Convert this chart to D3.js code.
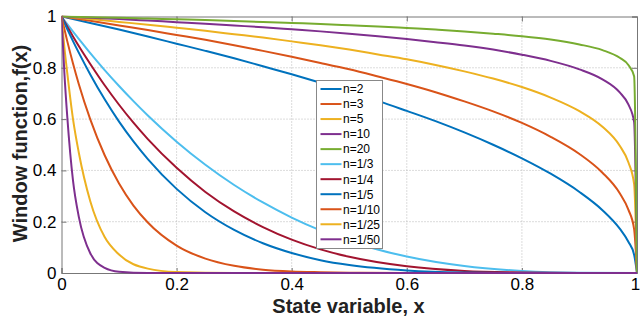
<!DOCTYPE html>
<html>
<head>
<meta charset="utf-8">
<script src="https://cdn.jsdelivr.net/npm/d3@7"></script>
<style>
  body { margin: 0; background: #fff; }
  svg { display: block; font-family: Arial, "Liberation Sans", sans-serif; }
</style>
</head>
<body>
<svg id="chart" width="640" height="320"></svg>
<script>
// sample positions along the state variable
var xsHigh = [0, 0.05, 0.1, 0.15, 0.2, 0.25, 0.3, 0.35, 0.4, 0.45, 0.5, 0.55, 0.6, 0.65, 0.7, 0.75, 0.8, 0.85, 0.9, 0.94, 0.97, 0.985, 0.995, 1];
var xsLow = [0, 0.01, 0.02, 0.03, 0.05, 0.075, 0.1, 0.125, 0.15, 0.2, 0.25, 0.3, 0.35, 0.4, 0.45, 0.5, 0.6, 0.7, 0.8, 0.9, 1];
var xsSteep = [0, 0.005, 0.01, 0.02, 0.03, 0.05, 0.075, 0.1, 0.15, 0.2, 0.3, 0.5, 0.7, 1];

// values
var n2 = [1, 0.975, 0.949, 0.922, 0.894, 0.866, 0.837, 0.806, 0.775, 0.742, 0.707, 0.671, 0.632, 0.592, 0.548, 0.50, 0.447, 0.387, 0.316, 0.245, 0.173, 0.122, 0.071, 0];
var n3 = [1, 0.983, 0.965, 0.947, 0.928, 0.909, 0.888, 0.866, 0.843, 0.819, 0.794, 0.766, 0.737, 0.705, 0.669, 0.63, 0.585, 0.531, 0.464, 0.391, 0.311, 0.247, 0.171, 0];
var n5 = [1, 0.99, 0.979, 0.968, 0.956, 0.944, 0.931, 0.918, 0.903, 0.888, 0.871, 0.852, 0.833, 0.811, 0.786, 0.758, 0.725, 0.684, 0.631, 0.570, 0.496, 0.432, 0.347, 0];
var n10 = [1, 0.995, 0.99, 0.984, 0.978, 0.972, 0.965, 0.958, 0.95, 0.942, 0.933, 0.923, 0.912, 0.90, 0.887, 0.871, 0.851, 0.827, 0.794, 0.755, 0.704, 0.657, 0.589, 0];
var n20 = [1, 0.997, 0.995, 0.992, 0.989, 0.986, 0.982, 0.979, 0.975, 0.971, 0.966, 0.961, 0.955, 0.949, 0.942, 0.933, 0.923, 0.91, 0.891, 0.869, 0.839, 0.811, 0.767, 0];
var n1_3 = [1, 0.970, 0.941, 0.913, 0.857, 0.791, 0.729, 0.670, 0.614, 0.512, 0.422, 0.343, 0.275, 0.216, 0.166, 0.125, 0.064, 0.027, 0.008, 0.001, 0];
var n1_4 = [1, 0.961, 0.922, 0.885, 0.815, 0.732, 0.656, 0.586, 0.522, 0.410, 0.316, 0.240, 0.179, 0.130, 0.092, 0.063, 0.026, 0.008, 0.002, 0, 0];
var n1_5 = [1, 0.951, 0.904, 0.859, 0.774, 0.677, 0.590, 0.513, 0.444, 0.328, 0.237, 0.168, 0.116, 0.078, 0.050, 0.031, 0.010, 0.002, 0, 0, 0];
var n1_10 = [1, 0.904, 0.817, 0.737, 0.599, 0.459, 0.349, 0.263, 0.197, 0.107, 0.056, 0.028, 0.013, 0.006, 0.003, 0.001, 0, 0, 0, 0, 0];
var n1_25 = [1, 0.88, 0.78, 0.60, 0.47, 0.28, 0.14, 0.072, 0.017, 0.004, 0, 0, 0, 0];
var n1_50 = [1, 0.78, 0.61, 0.36, 0.22, 0.077, 0.02, 0.005, 0, 0, 0, 0, 0, 0];

var labels = ["n=2", "n=3", "n=5", "n=10", "n=20", "n=1/3", "n=1/4", "n=1/5", "n=1/10", "n=1/25", "n=1/50"];
var colors = ["#0072BD", "#D95319", "#EDB120", "#7E2F8E", "#77AC30", "#4DBEEE", "#A2142F",
              "#0072BD", "#D95319", "#EDB120", "#7E2F8E"];
var xTicks = [0, 0.2, 0.4, 0.6, 0.8, 1];
var yTicks = [0, 0.2, 0.4, 0.6, 0.8, 1];

var series = [
    [xsHigh, n2], [xsHigh, n3], [xsHigh, n5], [xsHigh, n10], [xsHigh, n20],
    [xsLow, n1_3], [xsLow, n1_4], [xsLow, n1_5], [xsLow, n1_10],
    [xsSteep, n1_25], [xsSteep, n1_50]
].map(function (s, i) {
    return { name: labels[i], color: colors[i], pts: s[0].map(function (x, j) { return [x, s[1][j]]; }) };
});

var svg = d3.select("#chart");
var plotL = 61.5, plotR = 637, plotT = 16.5, plotB = 273;

var xScale = d3.scaleLinear().domain([0, 1]).range([plotL, plotR]);
var yScale = d3.scaleLinear().domain([0, 1]).range([plotB, plotT]);

function styleText(g) {
    g.selectAll("text").attr("font-size", "17px").attr("fill", "#000")
        .attr("font-family", "Arial, 'Liberation Sans', sans-serif");
}

// grid
svg.append("g").selectAll("line").data(xTicks.slice(1, -1)).enter().append("line")
    .attr("x1", function (d) { return xScale(d); }).attr("x2", function (d) { return xScale(d); })
    .attr("y1", plotT).attr("y2", plotB)
    .attr("stroke", "#b8b8b8").attr("stroke-dasharray", "1,2");
svg.append("g").selectAll("line").data(yTicks.slice(1, -1)).enter().append("line")
    .attr("y1", function (d) { return yScale(d); }).attr("y2", function (d) { return yScale(d); })
    .attr("x1", plotL).attr("x2", plotR)
    .attr("stroke", "#b8b8b8").attr("stroke-dasharray", "1,2");

// axes with inward ticks
svg.append("g").attr("transform", "translate(0," + plotB + ")")
    .call(d3.axisBottom(xScale).tickValues(xTicks).tickSize(-5).tickPadding(5).tickFormat(d3.format("~g")))
    .call(function (g) {
        g.select(".domain").attr("stroke", "#777");
        g.selectAll(".tick line").attr("stroke", "#777");
        styleText(g);
        g.selectAll(".tick text").filter(function (d) { return d === 1; }).attr("dx", "-2");
    });
svg.append("g").attr("transform", "translate(" + plotL + ",0)")
    .call(d3.axisLeft(yScale).tickValues(yTicks).tickSize(-5).tickPadding(5).tickFormat(d3.format("~g")))
    .call(function (g) {
        g.select(".domain").attr("stroke", "#777");
        g.selectAll(".tick line").attr("stroke", "#777");
        styleText(g);
    });
svg.append("g").attr("transform", "translate(0," + plotT + ")")
    .call(d3.axisTop(xScale).tickValues(xTicks).tickSize(-5).tickFormat(""))
    .call(function (g) { g.selectAll("path,line").attr("stroke", "#777"); });
svg.append("g").attr("transform", "translate(" + plotR + ",0)")
    .call(d3.axisRight(yScale).tickValues(yTicks).tickSize(-5).tickFormat(""))
    .call(function (g) { g.selectAll("path,line").attr("stroke", "#777"); });

// curves
svg.append("clipPath").attr("id", "clip").append("rect")
    .attr("x", plotL).attr("y", plotT - 1).attr("width", plotR - plotL).attr("height", plotB - plotT + 2);

var line = d3.line()
    .x(function (d) { return xScale(d[0]); })
    .y(function (d) { return yScale(d[1]); })
    .curve(d3.curveMonotoneX);

svg.append("g").attr("clip-path", "url(#clip)")
    .selectAll("path").data(series).enter().append("path")
    .attr("d", function (d) { return line(d.pts); })
    .attr("fill", "none")
    .attr("stroke", function (d) { return d.color; })
    .attr("stroke-width", 2);

// legend
var lg = svg.append("g");
lg.append("rect").attr("x", 316.5).attr("y", 80.5).attr("width", 66).attr("height", 168)
    .attr("fill", "#fff").attr("stroke", "#888");
var item = lg.selectAll("g.item").data(series).enter().append("g")
    .attr("class", "item")
    .attr("transform", function (d, i) { return "translate(0," + (89 + i * 15.03) + ")"; });
item.append("line").attr("x1", 320.5).attr("x2", 341.5)
    .attr("stroke", function (d) { return d.color; }).attr("stroke-width", 2);
item.append("text").attr("x", 343).attr("dy", "0.36em")
    .attr("font-size", "12px").text(function (d) { return d.name; });

// axis titles
svg.append("text").attr("x", 348.5).attr("y", 313)
    .attr("text-anchor", "middle").attr("font-size", "20px").attr("font-weight", "bold")
    .attr("fill", "#222").text("State variable, x");
svg.append("text").attr("transform", "translate(26.5,143.5) rotate(-90)")
    .attr("text-anchor", "middle").attr("font-size", "20px").attr("font-weight", "bold")
    .attr("fill", "#222").text("Window function,f(x)");
</script>
</body>
</html>
